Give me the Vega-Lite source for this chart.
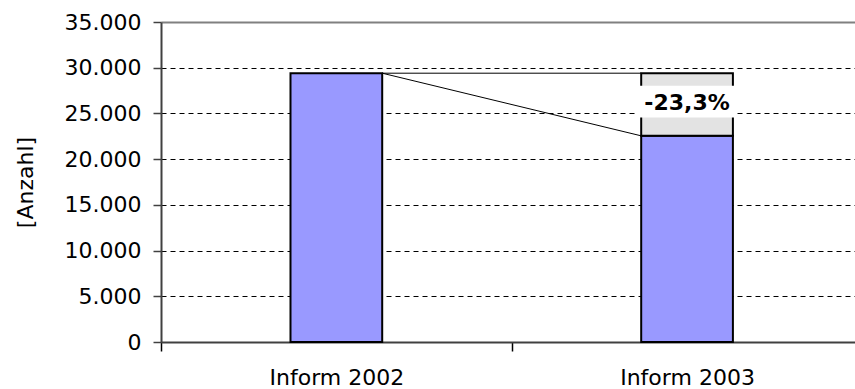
{
  "$schema": "https://vega.github.io/schema/vega-lite/v6.json",
  "autosize": {"type": "none"},
  "padding": {"left": 161, "top": 22, "right": 0, "bottom": 47},
  "width": 694,
  "height": 320,
  "datasets": {
    "main": [
      {"cat": "Inform 2002", "n": 29400},
      {"cat": "Inform 2003", "n": 22550}
    ],
    "change": [
      {"cat": "Inform 2003", "from": "Inform 2002", "lo": 22550, "hi": 29400, "label": "-23,3%"}
    ]
  },
  "encoding": {
    "x": {
      "field": "cat",
      "type": "nominal",
      "scale": {"domain": ["Inform 2002", "Inform 2003"], "range": [0, 701.4], "paddingInner": 0, "paddingOuter": 0},
      "axis": {
        "title": null,
        "labelAngle": 0,
        "labelFontSize": 22,
        "labelColor": "#000000",
        "labelPadding": 16,
        "tickBand": "extent",
        "tickSize": 9,
        "tickColor": "#000000",
        "tickWidth": 1.5,
        "domainColor": "#404040",
        "domainWidth": 2,
        "grid": false
      }
    }
  },
  "layer": [
    {
      "data": {"name": "main"},
      "mark": {"type": "bar", "width": {"band": 0.2615}, "fill": "#9999ff", "stroke": "#000000", "strokeWidth": 2},
      "encoding": {
        "y": {
          "field": "n",
          "type": "quantitative",
          "scale": {"domain": [0, 35000], "nice": false},
          "axis": {
            "values": [0, 5000, 10000, 15000, 20000, 25000, 30000, 35000],
            "labelExpr": "replace(format(datum.value, ',d'), ',', '.')",
            "labelFontSize": 22,
            "labelColor": "#000000",
            "labelPadding": 12,
            "tickSize": 8,
            "tickColor": "#404040",
            "tickWidth": 1.5,
            "domainColor": "#404040",
            "domainWidth": 2,
            "grid": true,
            "gridColor": {"condition": {"test": "datum.value === 35000", "value": "#808080"}, "value": "#000000"},
            "gridDash": {"condition": {"test": "datum.value === 35000", "value": []}, "value": [5, 4]},
            "gridWidth": {"condition": {"test": "datum.value === 35000", "value": 2}, "value": 1},
            "title": "[Anzahl]",
            "titleFontSize": 22,
            "titleFontWeight": "normal",
            "titleColor": "#000000",
            "titlePadding": 27
          }
        }
      }
    },
    {
      "data": {"name": "change"},
      "mark": {"type": "bar", "width": {"band": 0.2615}, "fill": "#e3e3e3", "stroke": "#000000", "strokeWidth": 2},
      "encoding": {
        "y": {"field": "lo", "type": "quantitative"},
        "y2": {"field": "hi"}
      }
    },
    {
      "data": {"name": "change"},
      "mark": {"type": "rule", "color": "#000000", "strokeWidth": 1},
      "encoding": {
        "x": {"field": "from", "type": "nominal", "bandPosition": 0.63075},
        "x2": {"field": "cat", "bandPosition": 0.36925},
        "y": {"field": "hi", "type": "quantitative"}
      }
    },
    {
      "data": {"name": "change"},
      "mark": {"type": "rule", "color": "#000000", "strokeWidth": 1},
      "encoding": {
        "x": {"field": "from", "type": "nominal", "bandPosition": 0.63075},
        "x2": {"field": "cat", "bandPosition": 0.36925},
        "y": {"field": "hi", "type": "quantitative"},
        "y2": {"field": "lo"}
      }
    },
    {
      "data": {"name": "change"},
      "mark": {"type": "bar", "width": {"band": 0.285}, "fill": "#ffffff", "stroke": null},
      "encoding": {
        "y": {"datum": 24550},
        "y2": {"datum": 28030}
      }
    },
    {
      "data": {"name": "change"},
      "mark": {"type": "text", "fontSize": 22, "fontWeight": "bold", "color": "#000000", "baseline": "middle", "align": "center"},
      "encoding": {
        "y": {"datum": 26150},
        "text": {"field": "label"}
      }
    }
  ],
  "config": {
    "font": "DejaVu Sans",
    "view": {"stroke": null}
  }
}
